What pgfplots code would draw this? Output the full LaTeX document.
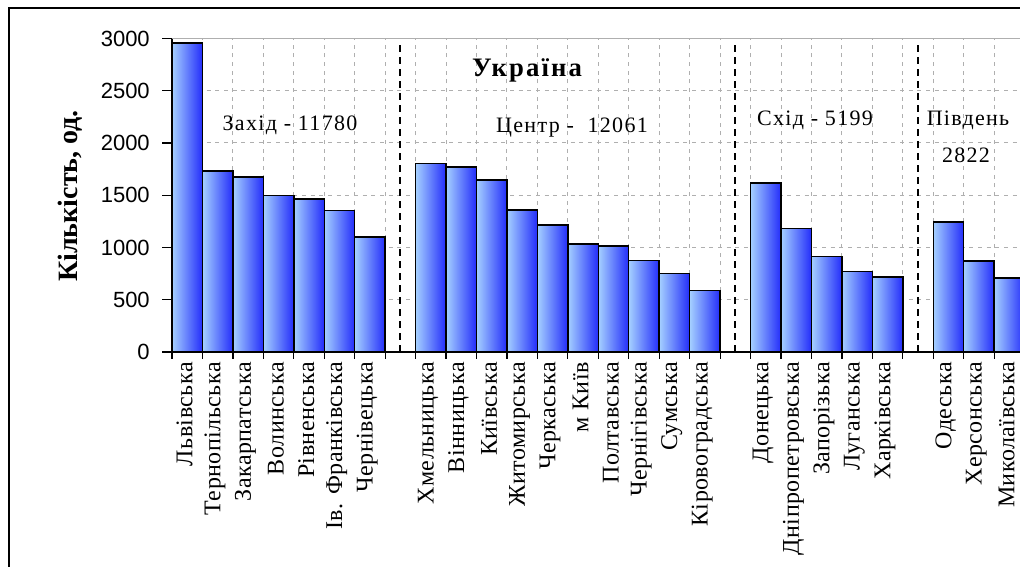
\documentclass[border=0pt]{standalone}
\usepackage{fontspec}
\setmainfont{Liberation Serif}
\newfontfamily\sansf{Liberation Sans}
\newfontfamily\lblf[LetterSpace=2]{Liberation Serif}
\newfontfamily\annf[LetterSpace=6]{Liberation Serif}
\newfontfamily\ukrf[LetterSpace=8]{Liberation Serif}
\usepackage{pgfplots}
\usepackage{pgfplotstable}
\pgfplotsset{compat=1.18}
\definecolor{barL}{RGB}{165,208,255}
\definecolor{barR}{RGB}{35,45,250}
\definecolor{gridc}{RGB}{175,175,175}

\pgfplotstableread{
x y
0 2955
1 1730
2 1675
3 1500
4 1465
5 1355
6 1100
8 1805
9 1770
10 1645
11 1360
12 1215
13 1035
14 1015
15 875
16 750
17 591
19 1615
20 1180
21 915
22 770
23 719
25 1245
26 870
27 707
}\regions

\begin{document}
\begin{tikzpicture}
\begin{axis}[
  at={(129pt,161.25pt)}, anchor=south west,
  scale only axis, width=639.45pt, height=235.125pt,
  xmin=-0.5, xmax=27.5, ymin=0, ymax=3000,
  axis lines*=left,
  axis line style={-, black, line width=1.2pt},
  tick align=outside,
  major tick length=7.5pt,
  minor tick length=5.25pt,
  ytick={0,500,1000,1500,2000,2500,3000},
  yticklabels={0,500,1000,1500,2000,2500,3000},
  scaled y ticks=false,
  ytick style={black, line width=0.9pt},
  yticklabel style={font=\sansf\fontsize{16.5}{18}\selectfont, inner sep=0pt, xshift=-9pt},
  xtick={0,1,2,3,4,5,6,8,9,10,11,12,13,14,15,16,17,19,20,21,22,23,25,26,27},
  xticklabels={Львівська,Тернопільська,Закарпатська,Волинська,Рівненська,Ів. Франківська,Чернівецька,
    Хмельницька,Вінницька,Київська,Житомирська,Черкаська,м Київ,Полтавська,Чернігівська,Сумська,Кіровоградська,
    Донецька,Дніпропетровська,Запорізька,Луганська,Харківська,
    Одеська,Херсонська,Миколаївська},
  major x tick style={draw=none},
  minor xtick={-0.5,0.5,...,27.5},
  minor x tick style={black, line width=0.9pt},
  xticklabel style={rotate=90, anchor=east, font=\lblf\fontsize{18}{19}\selectfont, inner sep=0pt, yshift=2pt},
  ymajorgrids, xminorgrids,
  major grid style={gridc, dash pattern=on 3pt off 3.5pt, line width=0.75pt},
  minor grid style={gridc, dash pattern=on 3pt off 3.5pt, line width=0.75pt},
  clip=false,
]
\pgfplotsinvokeforeach{0,1,2,3,4,5,6,8,9,10,11,12,13,14,15,16,17,19,20,21,22,23,25,26,27}{
  \addplot[ybar, bar width=1, draw=black, line width=1.1pt, left color=barL, right color=barR]
    table[x=x, y=y, restrict x to domain=#1:#1] {\regions};
}
\draw[gridc, line width=0.75pt] (rel axis cs:0,1) -- (rel axis cs:1,1);
\draw[black, line width=1.4pt, dash pattern=on 5.5pt off 3.5pt] (axis cs:7,0) -- (axis cs:7,2950);
\draw[black, line width=1.4pt, dash pattern=on 5.5pt off 3.5pt] (axis cs:18,0) -- (axis cs:18,2950);
\draw[black, line width=1.4pt, dash pattern=on 5.5pt off 3.5pt] (axis cs:24,0) -- (axis cs:24,2950);
\end{axis}
\begin{scope}[x=0.75pt, y=-0.75pt, shift={(0pt,425.25pt)}]
  \draw[black, line width=1.5pt] (8.5,580) -- (8.5,8.5) -- (1030,8.5);
  \node[rotate=90, font=\bfseries\fontsize{21}{24}\selectfont] at (70,196) {Кількість, од.};
  \node[font=\ukrf\bfseries\fontsize{20}{22}\selectfont] at (527,70) {Україна};
  \node[font=\annf\fontsize{16.5}{18}\selectfont] at (290,125) {Захід - 11780};
  \node[font=\annf\fontsize{16.5}{18}\selectfont] at (572,128) {Центр -\ \ 12061};
  \node[font=\annf\fontsize{16.5}{18}\selectfont] at (815,120) {Схід - 5199};
  \node[font=\annf\fontsize{16.5}{18}\selectfont] at (968,120) {Південь};
  \node[font=\annf\fontsize{16.5}{18}\selectfont] at (966,155) {2822};
\end{scope}
\pgfresetboundingbox
\useasboundingbox (0,0) rectangle (765pt,425.25pt);
\end{tikzpicture}
\end{document}
